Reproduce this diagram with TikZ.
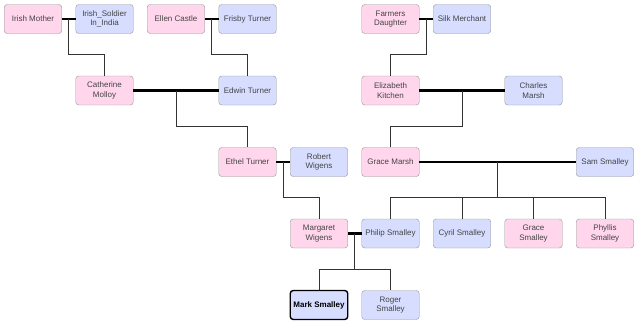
\documentclass[tikz,border=0pt]{standalone}
\usepackage{fontspec}
\setmainfont{Liberation Sans}
\usepackage{xcolor}
\definecolor{femfill}{RGB}{255,214,236}
\definecolor{malfill}{RGB}{214,221,255}
\definecolor{boxline}{RGB}{150,150,150}
\definecolor{boxtext}{RGB}{68,68,68}
\usepackage{tikz}
\usetikzlibrary{positioning,calc}

\begin{document}
\begin{tikzpicture}[x=71.5pt,y=-71.5pt,
      person/.style={rectangle,draw=boxline,rounded corners=3pt,minimum width=57.5pt,
                     minimum height=29pt,inner sep=2pt,align=center,text=boxtext,
                     font=\fontsize{8}{9.5}\selectfont},
      fem/.style={person,fill=femfill},
      mal/.style={person,fill=malfill},
      self/.style={mal,draw=black,line width=1.4pt,text=black,font=\fontsize{8}{9.5}\selectfont\bfseries},
      couple/.style={line width=2.2pt,black},
      descent/.style={line width=1pt,black!80}]
    \useasboundingbox (-33pt,19pt) rectangle (607pt,-306pt);
    % first generation
    \node[fem] (irishmother) at (0,0) {Irish Mother};
    \node[mal] (soldier) at (1,0) {Irish\_Soldier\\In\_India};
    \node[fem] (ellen) at (2,0) {Ellen Castle};
    \node[mal] (frisby) at (3,0) {Frisby Turner};
    \node[fem] (farmers) at (5,0) {Farmers\\Daughter};
    \node[mal] (silk) at (6,0) {Silk Merchant};
    % second generation
    \node[fem] (catherine) at (1,1) {Catherine\\Molloy};
    \node[mal] (edwin) at (3,1) {Edwin Turner};
    \node[fem] (elizabeth) at (5,1) {Elizabeth\\Kitchen};
    \node[mal] (charles) at (7,1) {Charles\\Marsh};
    % third generation
    \node[fem] (ethel) at (3,2) {Ethel Turner};
    \node[mal] (robert) at (4,2) {Robert\\Wigens};
    \node[fem] (gracemarsh) at (5,2) {Grace Marsh};
    \node[mal] (sam) at (8,2) {Sam Smalley};
    % fourth generation
    \node[fem] (margaret) at (4,3) {Margaret\\Wigens};
    \node[mal] (philip) at (5,3) {Philip Smalley};
    \node[mal] (cyril) at (6,3) {Cyril Smalley};
    \node[fem] (gracesm) at (7,3) {Grace\\Smalley};
    \node[fem] (phyllis) at (8,3) {Phyllis\\Smalley};
    % fifth generation
    \node[self] (mark) at (4,4) {Mark Smalley};
    \node[mal] (roger) at (5,4) {Roger\\Smalley};

    % marriages
    \foreach \a/\b/\m in {irishmother/soldier/m1,ellen/frisby/m2,farmers/silk/m3,
                          catherine/edwin/m4,elizabeth/charles/m5,ethel/robert/m6,
                          gracemarsh/sam/m7,margaret/philip/m8}{
      \draw[couple] (\a.east) -- (\b.west);
      \coordinate (\m) at ($(\a.east)!0.5!(\b.west)$);
    }
    % children
    \draw[descent] (m1) -- ++(0,0.5) -| (catherine.north);
    \draw[descent] (m2) -- ++(0,0.5) -| (edwin.north);
    \draw[descent] (m3) -- ++(0,0.5) -| (elizabeth.north);
    \draw[descent] (m4) -- ++(0,0.5) -| (ethel.north);
    \draw[descent] (m5) -- ++(0,0.5) -| (gracemarsh.north);
    \draw[descent] (m6) -- ++(0,0.5) -| (margaret.north);
    \draw[descent] (m7) -- ++(0,0.5) coordinate (j7);
    \foreach \c in {philip,cyril,gracesm,phyllis}
      \draw[descent] (j7) -| (\c.north);
    \draw[descent] (m8) -- ++(0,0.5) coordinate (j8);
    \foreach \c in {mark,roger}
      \draw[descent] (j8) -| (\c.north);
  \end{tikzpicture}
\end{document}
